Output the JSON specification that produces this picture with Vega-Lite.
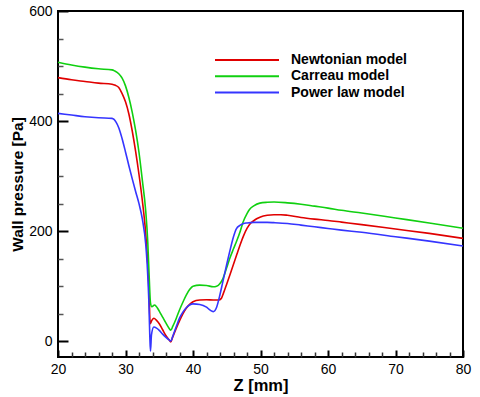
{
  "$schema": "https://vega.github.io/schema/vega-lite/v6.json",
  "width": 405,
  "height": 346,
  "autosize": "none",
  "padding": {"left": 58, "top": 11, "right": 17, "bottom": 40},
  "background": "white",
  "config": {
    "view": {"stroke": "black", "strokeWidth": 2},
    "font": "Liberation Sans"
  },
  "data": {"values": [
      {"model": "Newtonian model", "z": 20, "p": 479},
      {"model": "Newtonian model", "z": 22, "p": 475},
      {"model": "Newtonian model", "z": 24, "p": 472},
      {"model": "Newtonian model", "z": 26, "p": 469},
      {"model": "Newtonian model", "z": 28, "p": 467},
      {"model": "Newtonian model", "z": 28.5, "p": 465},
      {"model": "Newtonian model", "z": 29, "p": 461},
      {"model": "Newtonian model", "z": 29.5, "p": 450},
      {"model": "Newtonian model", "z": 30, "p": 435},
      {"model": "Newtonian model", "z": 30.5, "p": 413},
      {"model": "Newtonian model", "z": 31, "p": 382},
      {"model": "Newtonian model", "z": 31.5, "p": 345},
      {"model": "Newtonian model", "z": 32, "p": 303},
      {"model": "Newtonian model", "z": 32.5, "p": 255},
      {"model": "Newtonian model", "z": 33, "p": 195},
      {"model": "Newtonian model", "z": 33.3, "p": 140},
      {"model": "Newtonian model", "z": 33.5, "p": 85},
      {"model": "Newtonian model", "z": 33.65, "p": 32},
      {"model": "Newtonian model", "z": 33.9, "p": 38},
      {"model": "Newtonian model", "z": 34.2, "p": 42},
      {"model": "Newtonian model", "z": 34.6, "p": 38},
      {"model": "Newtonian model", "z": 35, "p": 32},
      {"model": "Newtonian model", "z": 35.5, "p": 21},
      {"model": "Newtonian model", "z": 36, "p": 10},
      {"model": "Newtonian model", "z": 36.5, "p": 2},
      {"model": "Newtonian model", "z": 36.7, "p": -1},
      {"model": "Newtonian model", "z": 37, "p": 8},
      {"model": "Newtonian model", "z": 37.5, "p": 23},
      {"model": "Newtonian model", "z": 38, "p": 37},
      {"model": "Newtonian model", "z": 38.5, "p": 50},
      {"model": "Newtonian model", "z": 39, "p": 60},
      {"model": "Newtonian model", "z": 39.5, "p": 67},
      {"model": "Newtonian model", "z": 40, "p": 72},
      {"model": "Newtonian model", "z": 41, "p": 75},
      {"model": "Newtonian model", "z": 42, "p": 75.5},
      {"model": "Newtonian model", "z": 43, "p": 75},
      {"model": "Newtonian model", "z": 43.8, "p": 75},
      {"model": "Newtonian model", "z": 44.2, "p": 78},
      {"model": "Newtonian model", "z": 44.5, "p": 87},
      {"model": "Newtonian model", "z": 45, "p": 104},
      {"model": "Newtonian model", "z": 45.5, "p": 122},
      {"model": "Newtonian model", "z": 46, "p": 140},
      {"model": "Newtonian model", "z": 46.5, "p": 158},
      {"model": "Newtonian model", "z": 47, "p": 176},
      {"model": "Newtonian model", "z": 47.5, "p": 192},
      {"model": "Newtonian model", "z": 48, "p": 205},
      {"model": "Newtonian model", "z": 48.5, "p": 214},
      {"model": "Newtonian model", "z": 49, "p": 219},
      {"model": "Newtonian model", "z": 49.5, "p": 223},
      {"model": "Newtonian model", "z": 50, "p": 226},
      {"model": "Newtonian model", "z": 51, "p": 229},
      {"model": "Newtonian model", "z": 52, "p": 230},
      {"model": "Newtonian model", "z": 53, "p": 230},
      {"model": "Newtonian model", "z": 54, "p": 229},
      {"model": "Newtonian model", "z": 56, "p": 225},
      {"model": "Newtonian model", "z": 58, "p": 222},
      {"model": "Newtonian model", "z": 60, "p": 219.5},
      {"model": "Newtonian model", "z": 62, "p": 216.5},
      {"model": "Newtonian model", "z": 65, "p": 212},
      {"model": "Newtonian model", "z": 70, "p": 204},
      {"model": "Newtonian model", "z": 75, "p": 196},
      {"model": "Newtonian model", "z": 80, "p": 187},

      {"model": "Carreau model", "z": 20, "p": 507},
      {"model": "Carreau model", "z": 22, "p": 502},
      {"model": "Carreau model", "z": 24, "p": 498},
      {"model": "Carreau model", "z": 26, "p": 495},
      {"model": "Carreau model", "z": 28, "p": 493},
      {"model": "Carreau model", "z": 28.4, "p": 491},
      {"model": "Carreau model", "z": 29, "p": 486},
      {"model": "Carreau model", "z": 29.5, "p": 478},
      {"model": "Carreau model", "z": 30, "p": 464},
      {"model": "Carreau model", "z": 30.5, "p": 443},
      {"model": "Carreau model", "z": 31, "p": 416},
      {"model": "Carreau model", "z": 31.5, "p": 383},
      {"model": "Carreau model", "z": 32, "p": 343},
      {"model": "Carreau model", "z": 32.5, "p": 292},
      {"model": "Carreau model", "z": 33, "p": 236},
      {"model": "Carreau model", "z": 33.3, "p": 180},
      {"model": "Carreau model", "z": 33.5, "p": 120},
      {"model": "Carreau model", "z": 33.7, "p": 70},
      {"model": "Carreau model", "z": 33.9, "p": 63},
      {"model": "Carreau model", "z": 34.3, "p": 66},
      {"model": "Carreau model", "z": 34.7, "p": 61},
      {"model": "Carreau model", "z": 35, "p": 55},
      {"model": "Carreau model", "z": 35.5, "p": 44},
      {"model": "Carreau model", "z": 36, "p": 33},
      {"model": "Carreau model", "z": 36.5, "p": 23},
      {"model": "Carreau model", "z": 36.7, "p": 20},
      {"model": "Carreau model", "z": 37, "p": 27},
      {"model": "Carreau model", "z": 37.5, "p": 41},
      {"model": "Carreau model", "z": 38, "p": 57},
      {"model": "Carreau model", "z": 38.5, "p": 71},
      {"model": "Carreau model", "z": 39, "p": 84},
      {"model": "Carreau model", "z": 39.5, "p": 94},
      {"model": "Carreau model", "z": 40, "p": 100},
      {"model": "Carreau model", "z": 41, "p": 102},
      {"model": "Carreau model", "z": 42, "p": 101.5},
      {"model": "Carreau model", "z": 43, "p": 99},
      {"model": "Carreau model", "z": 43.5, "p": 100},
      {"model": "Carreau model", "z": 44, "p": 105},
      {"model": "Carreau model", "z": 44.4, "p": 113},
      {"model": "Carreau model", "z": 45, "p": 134},
      {"model": "Carreau model", "z": 45.4, "p": 149},
      {"model": "Carreau model", "z": 46, "p": 168},
      {"model": "Carreau model", "z": 46.4, "p": 180},
      {"model": "Carreau model", "z": 47, "p": 200},
      {"model": "Carreau model", "z": 47.4, "p": 216},
      {"model": "Carreau model", "z": 48, "p": 232},
      {"model": "Carreau model", "z": 48.4, "p": 240},
      {"model": "Carreau model", "z": 49, "p": 246},
      {"model": "Carreau model", "z": 49.9, "p": 251},
      {"model": "Carreau model", "z": 51, "p": 252.5},
      {"model": "Carreau model", "z": 52, "p": 253},
      {"model": "Carreau model", "z": 54, "p": 251.5},
      {"model": "Carreau model", "z": 56, "p": 249},
      {"model": "Carreau model", "z": 58, "p": 245.5},
      {"model": "Carreau model", "z": 60, "p": 242},
      {"model": "Carreau model", "z": 62, "p": 238},
      {"model": "Carreau model", "z": 65, "p": 233},
      {"model": "Carreau model", "z": 70, "p": 224},
      {"model": "Carreau model", "z": 75, "p": 215},
      {"model": "Carreau model", "z": 80, "p": 205.5},

      {"model": "Power law model", "z": 20, "p": 414},
      {"model": "Power law model", "z": 22, "p": 411},
      {"model": "Power law model", "z": 24, "p": 408},
      {"model": "Power law model", "z": 26, "p": 406},
      {"model": "Power law model", "z": 28, "p": 405},
      {"model": "Power law model", "z": 28.3, "p": 403},
      {"model": "Power law model", "z": 28.6, "p": 398},
      {"model": "Power law model", "z": 29, "p": 388},
      {"model": "Power law model", "z": 29.5, "p": 368},
      {"model": "Power law model", "z": 30, "p": 344},
      {"model": "Power law model", "z": 30.5, "p": 319},
      {"model": "Power law model", "z": 31, "p": 295},
      {"model": "Power law model", "z": 31.5, "p": 272},
      {"model": "Power law model", "z": 32, "p": 250},
      {"model": "Power law model", "z": 32.5, "p": 222},
      {"model": "Power law model", "z": 33, "p": 176},
      {"model": "Power law model", "z": 33.2, "p": 142},
      {"model": "Power law model", "z": 33.45, "p": 76},
      {"model": "Power law model", "z": 33.6, "p": 10},
      {"model": "Power law model", "z": 33.7, "p": -18},
      {"model": "Power law model", "z": 33.85, "p": 12},
      {"model": "Power law model", "z": 34.2, "p": 26},
      {"model": "Power law model", "z": 34.6, "p": 24},
      {"model": "Power law model", "z": 35, "p": 20},
      {"model": "Power law model", "z": 35.5, "p": 13},
      {"model": "Power law model", "z": 36, "p": 7},
      {"model": "Power law model", "z": 36.5, "p": 2},
      {"model": "Power law model", "z": 36.7, "p": 0.5},
      {"model": "Power law model", "z": 37, "p": 9},
      {"model": "Power law model", "z": 37.5, "p": 26},
      {"model": "Power law model", "z": 38, "p": 42},
      {"model": "Power law model", "z": 38.5, "p": 53},
      {"model": "Power law model", "z": 39, "p": 61},
      {"model": "Power law model", "z": 39.5, "p": 66},
      {"model": "Power law model", "z": 40, "p": 68},
      {"model": "Power law model", "z": 41, "p": 67},
      {"model": "Power law model", "z": 42, "p": 62},
      {"model": "Power law model", "z": 42.5, "p": 57},
      {"model": "Power law model", "z": 43, "p": 54},
      {"model": "Power law model", "z": 43.5, "p": 62},
      {"model": "Power law model", "z": 44, "p": 85},
      {"model": "Power law model", "z": 44.4, "p": 107},
      {"model": "Power law model", "z": 45, "p": 140},
      {"model": "Power law model", "z": 45.4, "p": 161},
      {"model": "Power law model", "z": 46, "p": 190},
      {"model": "Power law model", "z": 46.4, "p": 204},
      {"model": "Power law model", "z": 47, "p": 211},
      {"model": "Power law model", "z": 47.5, "p": 214},
      {"model": "Power law model", "z": 48, "p": 215},
      {"model": "Power law model", "z": 49, "p": 216},
      {"model": "Power law model", "z": 50, "p": 216},
      {"model": "Power law model", "z": 51, "p": 216},
      {"model": "Power law model", "z": 52, "p": 215.5},
      {"model": "Power law model", "z": 54, "p": 214},
      {"model": "Power law model", "z": 56, "p": 211},
      {"model": "Power law model", "z": 58, "p": 208},
      {"model": "Power law model", "z": 60, "p": 205},
      {"model": "Power law model", "z": 62, "p": 202},
      {"model": "Power law model", "z": 65, "p": 198},
      {"model": "Power law model", "z": 70, "p": 190},
      {"model": "Power law model", "z": 75, "p": 182},
      {"model": "Power law model", "z": 80, "p": 173}
  ]},
  "resolve": {"axis": {"x": "independent", "y": "independent"}},
  "layer": [
    {
      "mark": {"type": "line", "opacity": 0},
      "encoding": {
        "x": {
          "field": "z", "type": "quantitative",
          "scale": {"domain": [20, 80], "nice": false, "zero": false},
          "axis": {
            "orient": "bottom", "title": null, "labels": false, "domain": false, "grid": false,
            "values": [22,24,26,28,32,34,36,38,42,44,46,48,52,54,56,58,62,64,66,68,72,74,76,78],
            "tickSize": -5, "tickWidth": 1.5, "tickColor": "#333333"
          }
        },
        "y": {
          "field": "p", "type": "quantitative",
          "scale": {"domain": [-28.5, 600], "nice": false, "zero": false},
          "axis": {
            "orient": "left", "title": null, "labels": false, "domain": false, "grid": false,
            "values": [50, 100, 150, 250, 300, 350, 450, 500, 550],
            "tickSize": -5, "tickWidth": 1.5, "tickColor": "#555555"
          }
        }
      }
    },
    {
      "mark": {"type": "line", "strokeWidth": 1.6, "interpolate": "monotone"},
      "encoding": {
        "x": {
          "field": "z", "type": "quantitative",
          "axis": {
            "orient": "bottom",
            "title": "Z [mm]",
            "titleFont": "Liberation Sans", "titleFontSize": 16.5, "titleFontWeight": "bold", "titleColor": "black",
            "titlePadding": 1,
            "values": [20, 30, 40, 50, 60, 70, 80],
            "labelFont": "Liberation Sans", "labelFontSize": 14, "labelColor": "black",
            "labelPadding": 12,
            "labelFlush": false,
            "domain": false, "grid": false,
            "tickSize": -7, "tickWidth": 2, "tickColor": "black"
          }
        },
        "y": {
          "field": "p", "type": "quantitative",
          "axis": {
            "orient": "left",
            "title": "Wall pressure [Pa]",
            "titleFont": "Liberation Sans", "titleFontSize": 15.5, "titleFontWeight": "bold", "titleColor": "black",
            "titlePadding": 3,
            "values": [0, 200, 400, 600],
            "labelFont": "Liberation Sans", "labelFontSize": 14, "labelColor": "black",
            "labelPadding": 16,
            "labelFlush": false,
            "domain": false, "grid": false,
            "tickSize": -10, "tickWidth": 2, "tickColor": "black"
          }
        },
        "color": {
          "field": "model", "type": "nominal",
          "scale": {
            "domain": ["Newtonian model", "Carreau model", "Power law model"],
            "range": ["#e00000", "#10d010", "#3535ff"]
          },
          "legend": {
            "title": null,
            "orient": "none",
            "legendX": 180,
            "legendY": 40,
            "padding": 0,
            "symbolType": "M-4,0H4",
            "symbolSize": 256,
            "symbolStrokeWidth": 2,
            "labelOffset": 35,
            "rowPadding": 0.3,
            "labelFont": "Liberation Sans",
            "labelFontSize": 14,
            "labelFontWeight": "bold",
            "labelColor": "black",
            "labelLimit": 300
          }
        }
      }
    }
  ]
}
